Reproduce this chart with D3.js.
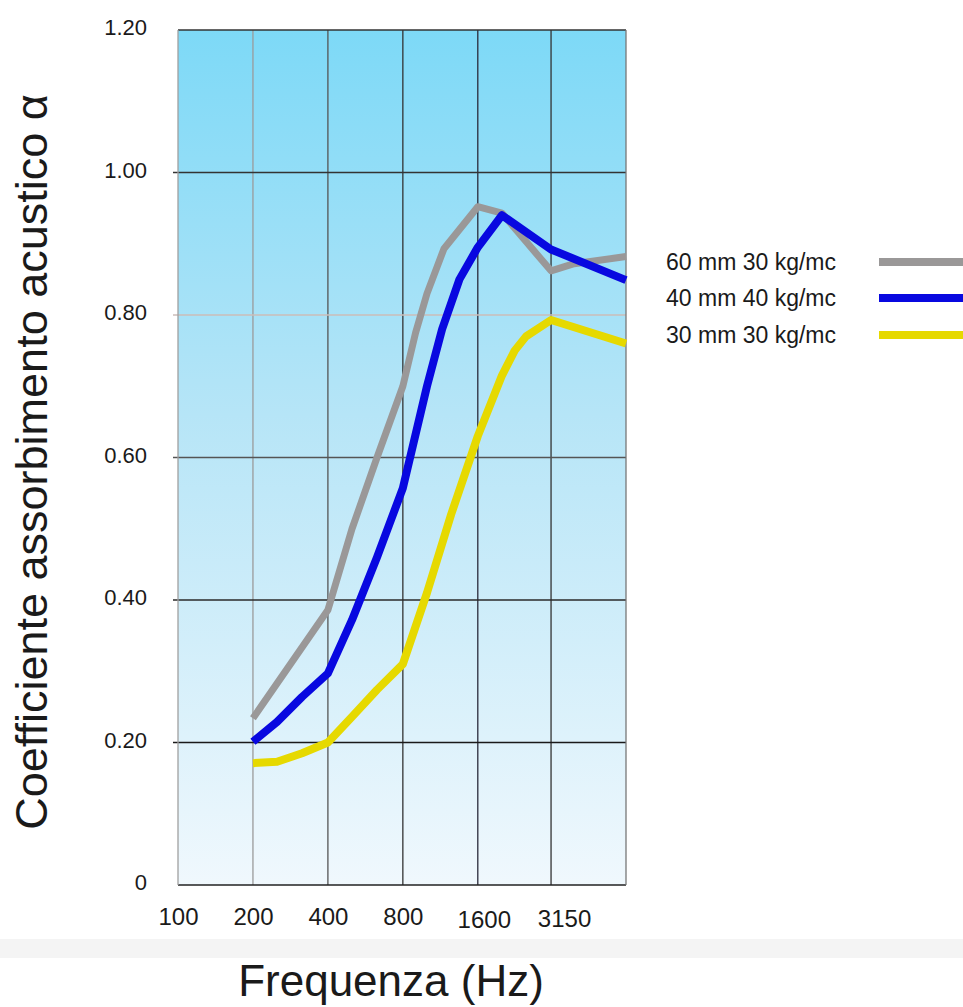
<!DOCTYPE html>
<html>
<head>
<meta charset="utf-8">
<script src="https://cdn.jsdelivr.net/npm/d3@7"></script>
<style>
  html, body { margin: 0; padding: 0; background: #ffffff; }
  svg { display: block; }
  text { font-family: "Liberation Sans", Arial, Helvetica, sans-serif; fill: #1a1a1a; }
</style>
</head>
<body>
<svg id="chart" width="963" height="1007"></svg>
<script>
// ---------- DATA ----------
const xTickValues = [100, 200, 400, 800, 1600, 3150];
const xTickLabels = ["100", "200", "400", "800", "1600", "3150"];
const yTickValues = [0, 0.2, 0.4, 0.6, 0.8, 1.0, 1.2];
const yTickLabels = ["0", "0.20", "0.40", "0.60", "0.80", "1.00", "1.20"];

const seriesNames = ["60 mm 30 kg/mc", "40 mm 40 kg/mc", "30 mm 30 kg/mc"];

const freq60 = [200, 400, 500, 630, 800, 900, 1000, 1170, 1600, 2000, 2500, 3150, 3900, 6300];
const alpha60 = [0.234, 0.386, 0.50, 0.60, 0.70, 0.775, 0.83, 0.893, 0.952, 0.943, 0.903, 0.862, 0.872, 0.882];

const freq40 = [200, 250, 315, 400, 500, 630, 800, 1000, 1150, 1350, 1600, 2000, 3150, 6300];
const alpha40 = [0.201, 0.229, 0.264, 0.297, 0.372, 0.46, 0.557, 0.70, 0.78, 0.85, 0.895, 0.94, 0.892, 0.849];

const freq30 = [200, 250, 315, 400, 500, 630, 800, 1000, 1250, 1600, 2000, 2250, 2500, 3150, 6300];
const alpha30 = [0.171, 0.173, 0.185, 0.20, 0.236, 0.274, 0.31, 0.41, 0.52, 0.63, 0.715, 0.75, 0.77, 0.793, 0.76];

const seriesColors = ["#9a9898", "#0808e0", "#e6d900"];

// ---------- LAYOUT ----------
const svg = d3.select("#chart");
const plot = { left: 178, right: 626, top: 30, bottom: 885 };

const x = d3.scaleLog().domain([100, 6300]).range([plot.left, plot.right]);
const y = d3.scaleLinear().domain([0, 1.2]).range([plot.bottom, plot.top]);

// background gradient
const defs = svg.append("defs");
const grad = defs.append("linearGradient")
  .attr("id", "bg").attr("x1", 0).attr("y1", 0).attr("x2", 0).attr("y2", 1);
grad.append("stop").attr("offset", "0%").attr("stop-color", "#7dd9f7");
grad.append("stop").attr("offset", "45%").attr("stop-color", "#b6e5f7");
grad.append("stop").attr("offset", "100%").attr("stop-color", "#f0f8fd");

// light grey band under x labels
svg.append("rect").attr("x", 0).attr("y", 939).attr("width", 963).attr("height", 19)
  .attr("fill", "#f4f4f4");

svg.append("rect")
  .attr("x", plot.left).attr("y", plot.top)
  .attr("width", plot.right - plot.left).attr("height", plot.bottom - plot.top)
  .attr("fill", "url(#bg)");

// vertical grid
const vColors = { 200: "#9a9a9a", 400: "#555", 800: "#333", 1600: "#2a2a3a", 3150: "#333" };
svg.append("g").selectAll("line")
  .data(xTickValues.filter(d => d > 100))
  .join("line")
  .attr("x1", d => x(d)).attr("x2", d => x(d))
  .attr("y1", plot.top).attr("y2", plot.bottom)
  .attr("stroke", d => vColors[d]).attr("stroke-width", 1.3);

// horizontal grid
const hColors = { 0.2: "#1a1a1a", 0.4: "#2a2a2a", 0.6: "#555", 0.8: "#cbbcb8", 1.0: "#333" };
svg.append("g").selectAll("line")
  .data(yTickValues.filter(d => d > 0 && d < 1.2))
  .join("line")
  .attr("x1", plot.left - 5).attr("x2", plot.right)
  .attr("y1", d => y(d)).attr("y2", d => y(d))
  .attr("stroke", d => hColors[d]).attr("stroke-width", 1.3);

// frame
svg.append("line").attr("x1", plot.left).attr("x2", plot.right)
  .attr("y1", plot.top).attr("y2", plot.top).attr("stroke", "#333").attr("stroke-width", 1.5);
svg.append("line").attr("x1", plot.left).attr("x2", plot.right)
  .attr("y1", plot.bottom).attr("y2", plot.bottom).attr("stroke", "#222").attr("stroke-width", 1.6);
svg.append("line").attr("x1", plot.left).attr("x2", plot.left)
  .attr("y1", plot.top).attr("y2", plot.bottom).attr("stroke", "#a0a0a0").attr("stroke-width", 1.3);
svg.append("line").attr("x1", plot.right).attr("x2", plot.right)
  .attr("y1", plot.top).attr("y2", plot.bottom).attr("stroke", "#777").attr("stroke-width", 1.3);

// y axis labels
const yAxis = d3.axisLeft(y).tickValues(yTickValues)
  .tickFormat((d, i) => yTickLabels[i]).tickSize(0).tickPadding(0);
const gy = svg.append("g").attr("transform", `translate(${plot.left - 31},0)`).call(yAxis);
gy.select(".domain").remove();
gy.selectAll("text").style("font-size", "22px").attr("fill", "#1a1a1a")
  .attr("font-family", "Liberation Sans, Arial, sans-serif").attr("dy", "0.22em");

// x axis labels
const xShift = { 1600: [6, 3], 3150: [13, 2] };
const xAxis = d3.axisBottom(x).tickValues(xTickValues)
  .tickFormat((d, i) => xTickLabels[i]).tickSize(0).tickPadding(0);
const gx = svg.append("g").attr("transform", `translate(0,${plot.bottom + 23})`).call(xAxis);
gx.select(".domain").remove();
gx.selectAll("text").style("font-size", "24px").attr("fill", "#1a1a1a")
  .attr("font-family", "Liberation Sans, Arial, sans-serif")
  .attr("dx", d => (xShift[d] ? xShift[d][0] : 0))
  .attr("dy", d => (xShift[d] ? 0.71 * 24 + xShift[d][1] : 0.71 * 24));

// series lines
const line = d3.line().x(d => x(d[0])).y(d => y(d[1])).curve(d3.curveLinear);
const seriesData = [
  d3.zip(freq60, alpha60),
  d3.zip(freq40, alpha40),
  d3.zip(freq30, alpha30)
];
const widths = [7, 8, 8];
svg.append("g").selectAll("path")
  .data(seriesData)
  .join("path")
  .attr("d", line)
  .attr("fill", "none")
  .attr("stroke", (d, i) => seriesColors[i])
  .attr("stroke-width", (d, i) => widths[i])
  .attr("stroke-linejoin", "round");

// legend
const legendY = [262, 298, 335];
const lg = svg.append("g");
seriesNames.forEach((name, i) => {
  lg.append("text").attr("x", 666).attr("y", legendY[i] + 8)
    .style("font-size", "23px").text(name);
  lg.append("line").attr("x1", 879).attr("x2", 963)
    .attr("y1", legendY[i]).attr("y2", legendY[i])
    .attr("stroke", seriesColors[i]).attr("stroke-width", 8);
});

// axis titles
svg.append("text")
  .attr("transform", "translate(47,462) rotate(-90)")
  .attr("text-anchor", "middle")
  .style("font-size", "45px")
  .text("Coefficiente assorbimento acustico α");

svg.append("text")
  .attr("x", 391).attr("y", 996)
  .attr("text-anchor", "middle")
  .style("font-size", "44px")
  .text("Frequenza (Hz)");
</script>
</body>
</html>
